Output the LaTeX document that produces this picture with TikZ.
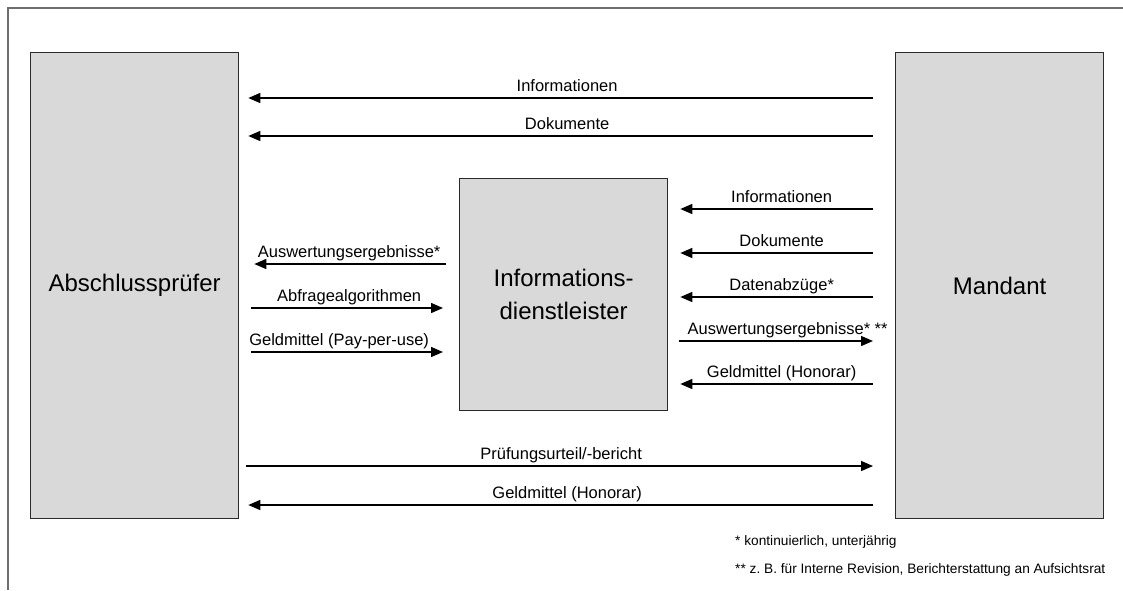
\documentclass[tikz,border=0pt]{standalone}
\usepackage{fontspec}
\setmainfont{Liberation Sans}
\usetikzlibrary{arrows.meta}
\definecolor{boxfill}{HTML}{D9D9D9}
\definecolor{boxedge}{HTML}{2A2A2A}
\definecolor{frameline}{HTML}{6E6E6E}
\frenchspacing
\begin{document}
\begin{tikzpicture}[x=1pt,y=-1pt,
  box/.style={draw=boxedge, fill=boxfill, line width=1.3pt, anchor=north west, inner sep=0pt, align=center,
    font=\fontsize{24}{33}\selectfont},
  arr/.style={line width=1.4pt, -{Triangle[length=12pt,width=10pt]}},
  lbl/.style={anchor=base, yshift=7pt, inner sep=0pt, font=\fontsize{16.5}{20}\selectfont},
  note/.style={anchor=base west, inner sep=0pt, font=\fontsize{13.7}{16}\selectfont}]
\useasboundingbox (0,0) rectangle (1123,590);
% frame
\draw[frameline, line width=1.2pt] (8,590) coordinate (f1) -- (8,8) coordinate (f2) -- (1123,8) coordinate (f3);
% boxes
\node[box, minimum width=208pt, minimum height=466pt] (L) at (30,52) {Abschlussprüfer};
\node[box, minimum width=208pt, minimum height=466pt] (R) at (895,52) {Mandant};
\node[box, minimum width=208pt, minimum height=232pt] (M) at (459,178) {Informations-\\dienstleister};
% top arrows
\draw[arr, shorten <=22pt, shorten >=9pt] (R.west |- 0,98) -- (L.east |- 0,98) node[lbl, midway] {Informationen};
\draw[arr, shorten <=22pt, shorten >=9pt] (R.west |- 0,136) -- (L.east |- 0,136) node[lbl, midway] {Dokumente};
% left-middle arrows
\draw[arr, shorten <=13pt, shorten >=15pt] (M.west |- 0,264) -- (L.east |- 0,264) node[lbl, midway] {Auswertungsergebnisse*};
\draw[arr, shorten <=12pt, shorten >=16pt] (L.east |- 0,308) -- (M.west |- 0,308) node[lbl, midway] {Abfragealgorithmen};
\draw[arr, shorten <=12pt, shorten >=16pt] (L.east |- 0,352) -- (M.west |- 0,352) node[lbl, midway, xshift=-10pt] {Geldmittel (Pay-per-use)};
% right-middle arrows
\draw[arr, shorten <=22pt, shorten >=12pt] (R.west |- 0,209) -- (M.east |- 0,209) node[lbl, midway] {Informationen};
\draw[arr, shorten <=22pt, shorten >=12pt] (R.west |- 0,253) -- (M.east |- 0,253) node[lbl, midway] {Dokumente};
\draw[arr, shorten <=22pt, shorten >=12pt] (R.west |- 0,297) -- (M.east |- 0,297) node[lbl, midway] {Datenabzüge*};
\draw[arr, shorten <=11pt, shorten >=22pt] (M.east |- 0,341) -- (R.west |- 0,341) node[lbl, midway, xshift=6pt] {Auswertungsergebnisse* **};
\draw[arr, shorten <=22pt, shorten >=12pt] (R.west |- 0,384) -- (M.east |- 0,384) node[lbl, midway] {Geldmittel (Honorar)};
% bottom arrows
\draw[arr, shorten <=7pt, shorten >=22pt] (L.east |- 0,466) -- (R.west |- 0,466) node[lbl, midway, xshift=-6pt] {Prüfungsurteil/-bericht};
\draw[arr, shorten <=22pt, shorten >=9pt] (R.west |- 0,505) -- (L.east |- 0,505) node[lbl, midway] {Geldmittel (Honorar)};
% footnotes
\node[note] (n1) at (735,545) {* kontinuierlich, unterjährig};
\node[note] (n2) at (735,573) {** z. B. für Interne Revision, Berichterstattung an Aufsichtsrat};
\end{tikzpicture}
\end{document}
